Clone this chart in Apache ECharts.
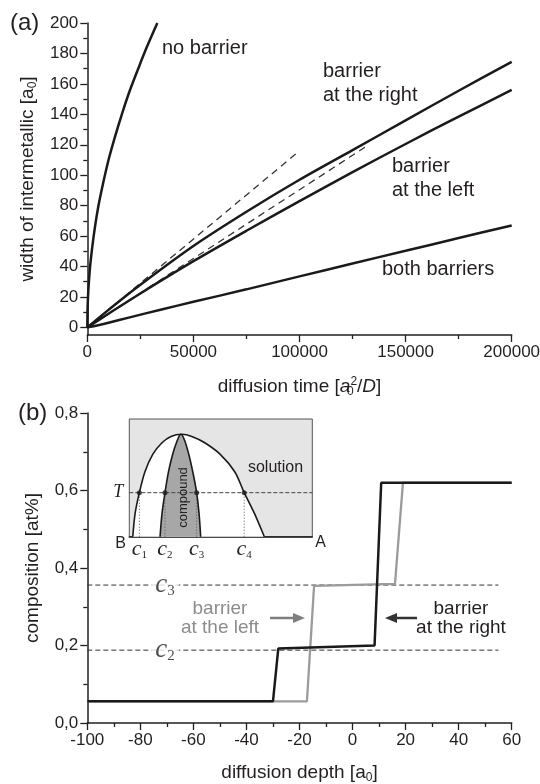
<!DOCTYPE html>
<html>
<head>
<meta charset="utf-8">
<script src="https://cdn.jsdelivr.net/npm/echarts@6/dist/echarts.min.js"></script>
<style>
html, body { margin: 0; padding: 0; background: #fff; }
#main { width: 540px; height: 784px; }
</style>
</head>
<body>
<div id="main"></div>
<script>
// ---- panel (a): width of intermetallic vs diffusion time ----
const widthTicks = [0, 20, 40, 60, 80, 100, 120, 140, 160, 180, 200]
const widthMinor = [10, 30, 50, 70, 90, 110, 130, 150, 170, 190]
const noBarrier = [[0, 0], [100, 11], [300, 19], [700, 29], [1500, 42.6], [3000, 60], [5000, 78], [7500, 95],
    [10000, 110], [13000, 125], [16500, 141], [20000, 155.5], [24000, 170], [28000, 184], [33000, 200]]
const barrierRight = [[0, 0], [10000, 11.5], [25000, 28], [50000, 53.5], [75000, 76], [100000, 97],
    [125000, 116.5], [150000, 136], [175000, 155.5], [200000, 174.5]]
const barrierLeft = [[0, 0], [10000, 9], [25000, 22.3], [50000, 43.5], [75000, 63.5], [100000, 83],
    [125000, 102], [150000, 120.5], [175000, 138.5], [200000, 156]]
const bothBarriers = [[0, 0], [5000, 1.4], [10000, 3.1], [20000, 6.6], [35000, 11.8], [50000, 16.8],
    [75000, 25], [100000, 33.5], [125000, 42], [150000, 50.3], [175000, 58.7], [200000, 67]]
const tangentRight = [[0, 0], [100000, 116]]
const tangentLeft = [[0, 0], [131000, 118.5]]

// ---- panel (b): composition profiles ----
const profileRight = [[-100, 0.056], [-30, 0.056], [-28, 0.192], [8.3, 0.2], [10.8, 0.62], [60, 0.62]]
const profileLeft = [[-100, 0.056], [-17.2, 0.056], [-14.5, 0.354], [16, 0.359], [19, 0.62], [60, 0.62]]
const levelC2 = 0.188
const levelC3 = 0.356
const levelSpan = [-100, 55]
const levelLabelX = -70.7

// ---- inset: phase diagram (composition B..A, temperature) ----
const solvus = [[0.019, 0], [0.032, 0.2], [0.055, 0.374], [0.085, 0.55], [0.128, 0.7], [0.18, 0.8],
    [0.225, 0.85], [0.286, 0.87], [0.345, 0.85], [0.41, 0.8], [0.497, 0.7], [0.577, 0.55],
    [0.628, 0.374], [0.683, 0.2], [0.711, 0.1], [0.738, 0]]
const compound = [[0.168, 0], [0.179, 0.2], [0.195, 0.374], [0.214, 0.55], [0.237, 0.7], [0.258, 0.8],
    [0.281, 0.87], [0.302, 0.82], [0.325, 0.7], [0.347, 0.55], [0.368, 0.374], [0.381, 0.2], [0.39, 0]]
const tempT = 0.374
const cPoints = [0.055, 0.195, 0.368, 0.628]

const SANS = 'Liberation Sans'
const SERIF = 'Liberation Serif'
const INK = '#231f20'

const myChart = echarts.init(document.getElementById('main'))

function axisBase() {
    return {
        type: 'value',
        axisLine: { onZero: false, lineStyle: { color: INK, width: 1.5 } },
        axisTick: { length: 7, lineStyle: { color: INK, width: 1.3 } },
        minorTick: { show: true, splitNumber: 2, length: 4, lineStyle: { color: INK, width: 1.3 } },
        splitLine: { show: false },
        axisLabel: { color: INK, fontSize: 17, fontFamily: SANS, margin: 9, formatter: function (v) { return String(v) } },
        nameLocation: 'middle',
        nameTextStyle: { color: INK, fontSize: 19, fontFamily: SANS, lineHeight: 22 }
    }
}

const subRich = {
    s: { fontSize: 12, fontFamily: SANS, lineHeight: 8, verticalAlign: 'bottom', color: INK },
    i: { fontSize: 19, fontFamily: SANS, fontStyle: 'italic', color: INK },
    z: { fontSize: 12, fontFamily: SANS, lineHeight: 8, verticalAlign: 'bottom', width: 0, color: INK },
    p: { fontSize: 12, fontFamily: SANS, lineHeight: 8, verticalAlign: 'top', color: INK }
}

function line(data, x, y, color, width, type, smooth) {
    return {
        type: 'line', xAxisIndex: x, yAxisIndex: y, data: data, showSymbol: false, smooth: smooth || false,
        lineStyle: { color: color, width: width, type: type || 'solid' }, silent: true
    }
}

function cLabel(level, n) {
    return {
        type: 'scatter', xAxisIndex: 1, yAxisIndex: 2, symbolSize: 0, silent: true, z: 5,
        data: [[levelLabelX, level]],
        label: {
            show: true, position: 'inside', formatter: '{c|c}{s|' + n + '}',
            backgroundColor: '#fff', padding: [0, 4, 0, 4],
            rich: {
                c: { fontFamily: SERIF, fontStyle: 'italic', fontSize: 27, color: INK },
                s: { fontFamily: SERIF, fontSize: 15, color: INK, verticalAlign: 'bottom', lineHeight: 10 }
            }
        }
    }
}

const series = [
    line(tangentRight, 0, 0, '#333', 1.3, [7, 5]),
    line(tangentLeft, 0, 0, '#333', 1.3, [7, 5]),
    line(noBarrier, 0, 0, '#1a1a1a', 2.5, 'solid', 0.3),
    line(barrierRight, 0, 0, '#1a1a1a', 2.5, 'solid', 0.3),
    line(barrierLeft, 0, 0, '#1a1a1a', 2.5, 'solid', 0.3),
    line(bothBarriers, 0, 0, '#1a1a1a', 2.5, 'solid', 0.3),

    line([[levelSpan[0], levelC3], [levelSpan[1], levelC3]], 1, 2, '#333', 1, [5, 3]),
    line([[levelSpan[0], levelC2], [levelSpan[1], levelC2]], 1, 2, '#333', 1, [5, 3]),
    cLabel(levelC3, 3),
    cLabel(levelC2, 2),
    line(profileLeft, 1, 2, '#9b9b9b', 2.3),
    line(profileRight, 1, 2, '#1a1a1a', 2.5),

    Object.assign(line(solvus, 2, 3, '#1a1a1a', 1.6, 'solid', 0.3), {
        areaStyle: { color: '#ffffff', opacity: 1 }
    }),
    Object.assign(line(compound, 2, 3, '#1a1a1a', 1.6, 'solid', 0.3), {
        areaStyle: { color: '#a7a7a7', opacity: 1 }
    }),
    line([[0, tempT], [1, tempT]], 2, 3, '#444', 1, [4, 2])
]
cPoints.forEach(function (c) {
    series.push(line([[c, 0], [c, tempT]], 2, 3, '#555', 1, [1, 2]))
})
series.push({
    type: 'scatter', xAxisIndex: 2, yAxisIndex: 3, symbolSize: 5, silent: true, z: 6,
    itemStyle: { color: '#1a1a1a' },
    data: cPoints.map(function (c) { return [c, tempT] })
})

const option = {
    animation: false,
    textStyle: { fontFamily: SANS },
    grid: [
        { left: 87.3, top: 23, width: 424.4, height: 312, outerBoundsMode: 'none' },
        { left: 87.3, top: 413, width: 424.4, height: 310, outerBoundsMode: 'none' },
        {
            left: 129.3, top: 419, width: 183, height: 117.7, outerBoundsMode: 'none',
            show: true, backgroundColor: '#e5e5e5', borderColor: '#555', borderWidth: 1
        }
    ],
    xAxis: [
        Object.assign(axisBase(), {
            gridIndex: 0, min: 0, max: 200000, interval: 50000,
            name: 'diffusion time [{i|a}{z|0}{p|2}/{i|D}]', nameGap: 41,
            nameTextStyle: { color: INK, fontSize: 19, fontFamily: SANS, lineHeight: 22, rich: subRich }
        }),
        Object.assign(axisBase(), {
            gridIndex: 1, min: -100, max: 60, interval: 20,
            name: 'diffusion depth [a{s|0}]', nameGap: 39,
            nameTextStyle: { color: INK, fontSize: 19, fontFamily: SANS, lineHeight: 22, rich: subRich }
        }),
        {
            type: 'value', gridIndex: 2, min: 0, max: 1,
            axisLine: { onZero: false, lineStyle: { color: '#1a1a1a', width: 1.6 } },
            axisTick: { show: false }, splitLine: { show: false },
            axisLabel: {
                customValues: cPoints, margin: 2,
                formatter: function (v) { return '{c|c}{s|' + (cPoints.indexOf(v) + 1) + '}' },
                rich: {
                    c: { fontFamily: SERIF, fontStyle: 'italic', fontSize: 22, color: INK },
                    s: { fontFamily: SERIF, fontSize: 11, color: INK, verticalAlign: 'bottom', lineHeight: 8 }
                }
            }
        }
    ],
    yAxis: [
        Object.assign(axisBase(), {
            gridIndex: 0, min: -5, max: 200,
            axisTick: { customValues: widthTicks, length: 7, lineStyle: { color: INK, width: 1.3 } },
            minorTick: { show: false },
            axisLabel: { customValues: widthTicks, color: INK, fontSize: 17, fontFamily: SANS, margin: 9 },
            name: 'width of intermetallic [a{s|0}]', nameGap: 45,
            nameTextStyle: { color: INK, fontSize: 19, fontFamily: SANS, lineHeight: 22, rich: subRich }
        }),
        {
            type: 'value', gridIndex: 0, min: -5, max: 200, position: 'left',
            axisLine: { show: false }, axisLabel: { show: false }, splitLine: { show: false },
            axisTick: { customValues: widthMinor, length: 4, lineStyle: { color: INK, width: 1.3 } }
        },
        Object.assign(axisBase(), {
            gridIndex: 1, min: 0, max: 0.8, interval: 0.2,
            axisLabel: {
                color: INK, fontSize: 17, fontFamily: SANS, margin: 9,
                formatter: function (v) { return v.toFixed(1).replace('.', ',') }
            },
            name: 'composition [at%]', nameGap: 38
        }),
        {
            type: 'value', gridIndex: 2, min: 0, max: 1,
            axisLine: { show: false }, axisTick: { show: false }, splitLine: { show: false },
            axisLabel: {
                customValues: [tempT], margin: 6, formatter: function () { return 'T' },
                fontFamily: SERIF, fontStyle: 'italic', fontSize: 18, color: INK
            }
        }
    ],
    graphic: [
        { type: 'text', x: 10, y: 23, style: { text: '(a)', fontSize: 24, fontFamily: SANS, fill: INK, verticalAlign: 'middle' } },
        { type: 'text', x: 18, y: 413, style: { text: '(b)', fontSize: 24, fontFamily: SANS, fill: INK, verticalAlign: 'middle' } },
        { type: 'text', x: 162, y: 48, style: { text: 'no barrier', fontSize: 20, fontFamily: SANS, fill: INK, verticalAlign: 'middle' } },
        { type: 'text', x: 323, y: 83.3, style: { text: 'barrier\nat the right', fontSize: 20, lineHeight: 23.5, fontFamily: SANS, fill: INK, verticalAlign: 'middle' } },
        { type: 'text', x: 392, y: 178.7, style: { text: 'barrier\nat the left', fontSize: 20, lineHeight: 24, fontFamily: SANS, fill: INK, verticalAlign: 'middle' } },
        { type: 'text', x: 382, y: 269.3, style: { text: 'both barriers', fontSize: 20, fontFamily: SANS, fill: INK, verticalAlign: 'middle' } },

        { type: 'text', x: 220, y: 618, style: { text: 'barrier\nat the left', fontSize: 19, lineHeight: 19, fontFamily: SANS, fill: '#8c8c8c', align: 'center', verticalAlign: 'middle' } },
        { type: 'text', x: 461, y: 618, style: { text: 'barrier\nat the right', fontSize: 19, lineHeight: 19, fontFamily: SANS, fill: INK, align: 'center', verticalAlign: 'middle' } },
        { type: 'line', shape: { x1: 270, y1: 618, x2: 294, y2: 618 }, style: { stroke: '#7f7f7f', lineWidth: 2.5 } },
        { type: 'polygon', shape: { points: [[305, 618], [293, 613], [293, 623]] }, style: { fill: '#7f7f7f' } },
        { type: 'line', shape: { x1: 396, y1: 618, x2: 417, y2: 618 }, style: { stroke: '#333', lineWidth: 2.5 } },
        { type: 'polygon', shape: { points: [[385, 618], [397, 613], [397, 623]] }, style: { fill: '#333' } },

        { type: 'text', x: 275.5, y: 468, z: 10, style: { text: 'solution', fontSize: 16, fontFamily: SANS, fill: INK, align: 'center', verticalAlign: 'middle' } },
        { type: 'text', x: 183, y: 497.5, rotation: Math.PI / 2, z: 10, style: { text: 'compound', fontSize: 13, fontFamily: SANS, fill: INK, align: 'center', verticalAlign: 'middle' } },
        { type: 'text', x: 120.5, y: 543.5, z: 10, style: { text: 'B', fontSize: 16, fontFamily: SANS, fill: INK, align: 'center', verticalAlign: 'middle' } },
        { type: 'text', x: 320.5, y: 542.5, z: 10, style: { text: 'A', fontSize: 16, fontFamily: SANS, fill: INK, align: 'center', verticalAlign: 'middle' } }
    ],
    series: series
}
myChart.setOption(option)
</script>
</body>
</html>
